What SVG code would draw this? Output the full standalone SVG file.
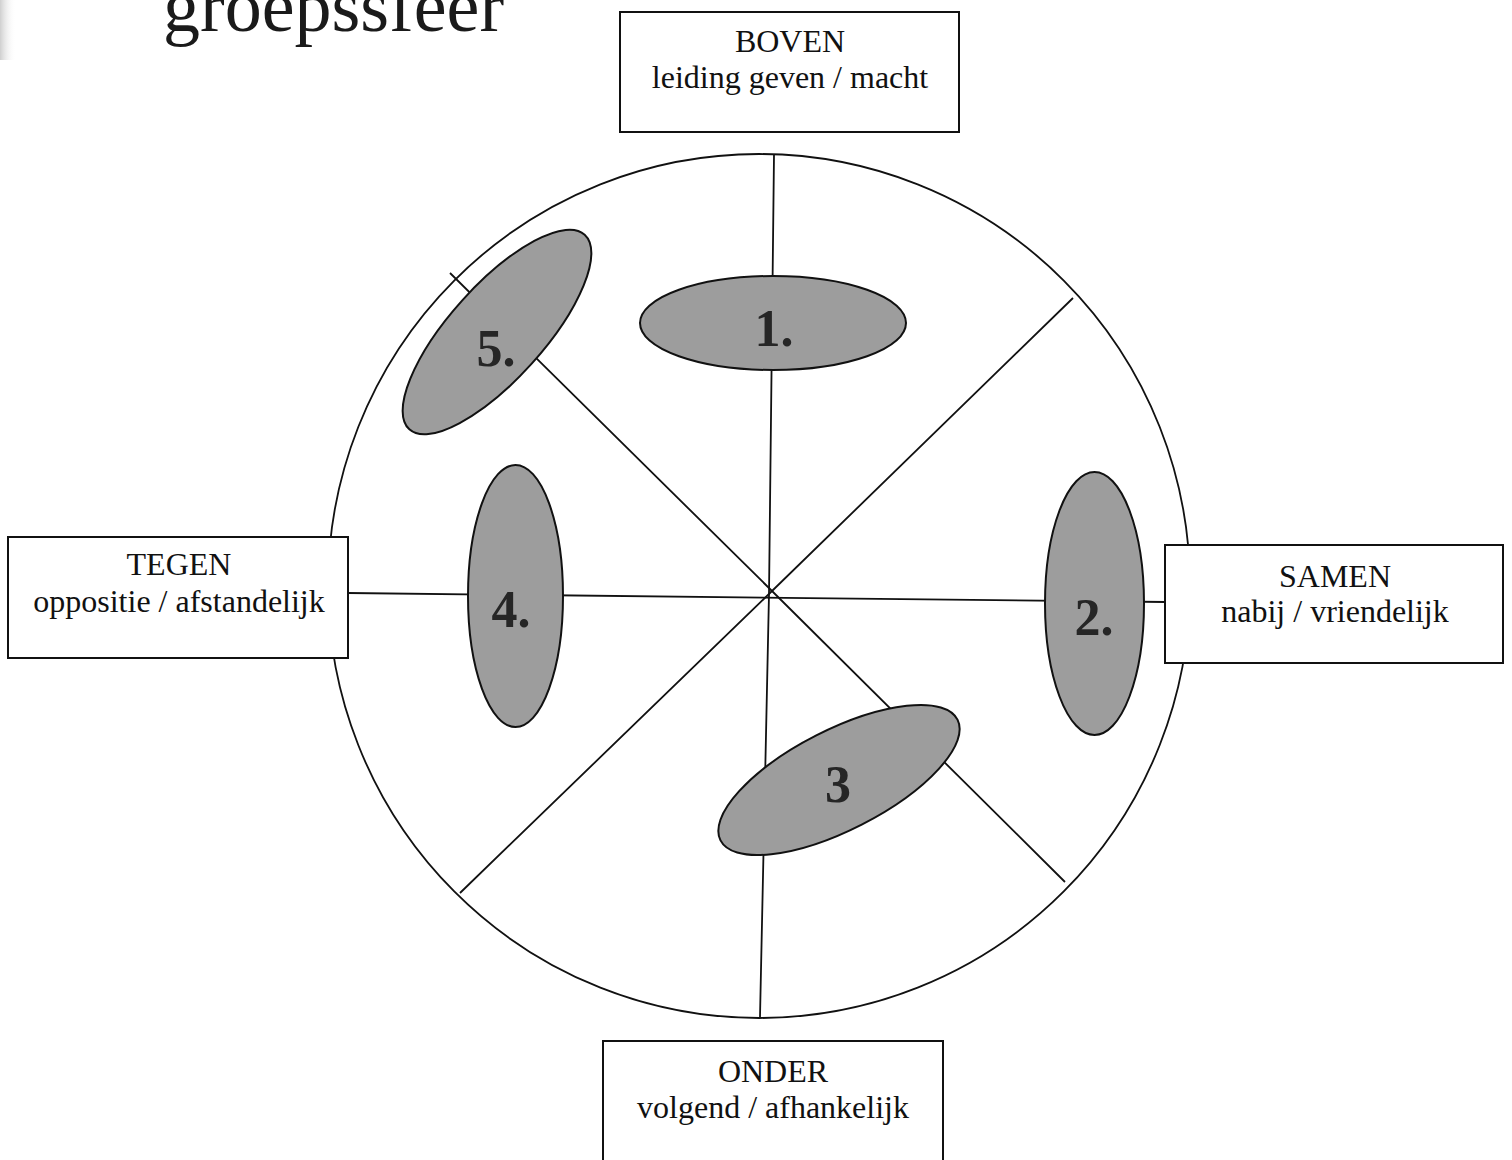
<svg xmlns="http://www.w3.org/2000/svg" width="1512" height="1160" viewBox="0 0 1512 1160">
<defs>
<style>
.box{fill:#fff;stroke:#111;stroke-width:2}
.lbl{font-family:"Liberation Serif","Times New Roman",serif;font-size:32px;fill:#111;text-anchor:middle}
.blob{fill:#9d9d9d;stroke:#111;stroke-width:2}
.num{font-family:"Liberation Serif","Times New Roman",serif;font-size:52px;font-weight:bold;fill:#262626;text-anchor:middle}
.spoke{stroke:#111;stroke-width:1.8;fill:none}
</style>
<linearGradient id="scan" x1="0" y1="0" x2="1" y2="0">
<stop offset="0" stop-color="#bbb" stop-opacity="0.7"/>
<stop offset="1" stop-color="#fff" stop-opacity="0"/>
</linearGradient>
</defs>
<rect width="1512" height="1160" fill="#fff"/>
<rect x="0" y="0" width="16" height="60" fill="url(#scan)"/>
<text id="title" x="163" y="31" font-family="'Liberation Serif','Times New Roman',serif" font-size="74" fill="#1a1a1a">groepssfeer</text>

<g id="wheel">
<ellipse cx="759" cy="586" rx="431" ry="432" fill="none" stroke="#111" stroke-width="1.8"/>
</g>

<g id="connectors">
<polyline class="spoke" points="774,155 769,594 760,1017"/>
<line class="spoke" x1="348" y1="593" x2="1165" y2="602"/>
<polyline class="spoke" points="450,273 772,591 1065,882"/>
<polyline class="spoke" points="1073,298 772,591 460,893"/>
</g>

<g id="n1">
<ellipse class="blob" cx="773" cy="323" rx="133" ry="47"/>
<text class="num" x="774" y="346">1.</text>
</g>
<g id="n2">
<ellipse class="blob" cx="1094.5" cy="603.5" rx="49.5" ry="131.5"/>
<text class="num" x="1094" y="635">2.</text>
</g>
<g id="n3">
<ellipse class="blob" cx="839" cy="780" rx="133" ry="50" transform="rotate(-27 839 780)"/>
<text class="num" x="838" y="802">3</text>
</g>
<g id="n4">
<ellipse class="blob" cx="515.5" cy="596" rx="47.5" ry="131"/>
<text class="num" x="511" y="627">4.</text>
</g>
<g id="n5">
<ellipse class="blob" cx="497" cy="332" rx="131" ry="47" transform="rotate(-48 497 332)"/>
<text class="num" x="496" y="366">5.</text>
</g>

<g id="boven">
<rect class="box" x="620" y="12" width="339" height="120"/>
<text class="lbl" x="790" y="52">BOVEN</text>
<text class="lbl" x="790" y="88">leiding geven / macht</text>
</g>
<g id="tegen">
<rect class="box" x="8" y="537" width="340" height="121"/>
<text class="lbl" x="179" y="575">TEGEN</text>
<text class="lbl" x="179" y="612">oppositie / afstandelijk</text>
</g>
<g id="samen">
<rect class="box" x="1165" y="545" width="338" height="118"/>
<text class="lbl" x="1335" y="587">SAMEN</text>
<text class="lbl" x="1335" y="622">nabij / vriendelijk</text>
</g>
<g id="onder">
<rect class="box" x="603" y="1041" width="340" height="130"/>
<text class="lbl" x="773" y="1082">ONDER</text>
<text class="lbl" x="773" y="1118">volgend / afhankelijk</text>
</g>
</svg>
